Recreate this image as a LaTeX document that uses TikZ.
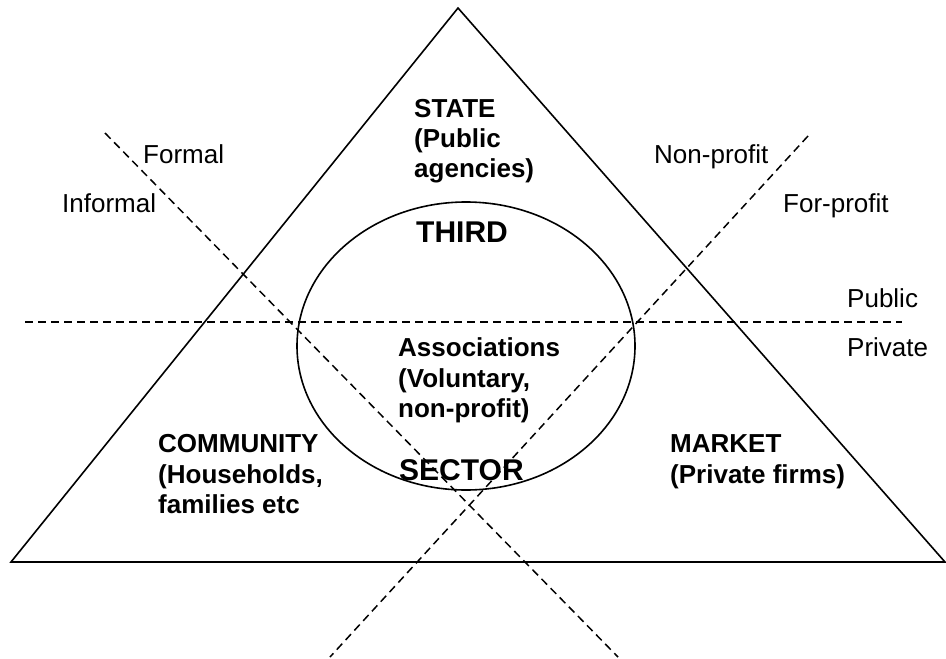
\documentclass[tikz,border=0pt]{standalone}
\usepackage{fontspec}
\setmainfont{Liberation Sans}
\usetikzlibrary{shapes.geometric}
\tikzset{
  solidline/.style={line width=1.6pt, black},
  dashline/.style={line width=1.5pt, black, dash pattern=on 8pt off 5pt},
  lbl/.style={anchor=base west, inner sep=0pt, font=\fontsize{26}{30}\selectfont},
  blbl/.style={anchor=base west, inner sep=0pt, font=\fontsize{26}{30}\selectfont\bfseries},
  biglbl/.style={anchor=base west, inner sep=0pt, font=\fontsize{30}{34}\selectfont\bfseries},
  third/.style={ellipse, draw, line width=1.6pt, minimum width=338pt, minimum height=288pt, inner sep=0pt}
}
\begin{document}
\begin{tikzpicture}[x=1pt,y=-1pt]
\useasboundingbox (0,0) rectangle (946,659);
% triangle
\coordinate (apex) at (458,8);
\coordinate (bl) at (11,562);
\coordinate (br) at (945,562);
\draw[solidline, line join=miter] (bl) -- (apex) -- (br) -- cycle;
% ellipse
\node[third] (ell) at (466,346) {};
% dashed lines
\coordinate (h1) at (25,322);
\coordinate (h2) at (902,322);
\coordinate (d1a) at (105,133);
\coordinate (d1b) at (618,657);
\coordinate (d2a) at (808,136);
\coordinate (d2b) at (330,657);
\draw[dashline] (h1) -- (h2);
\draw[dashline] (d1a) -- (d1b);
\draw[dashline] (d2a) -- (d2b);
% labels
\node[blbl] (st1) at (414,117) {STATE};
\node[blbl] (st2) at (414,147) {(Public};
\node[blbl] (st3) at (414,177) {agencies)};
\node[biglbl] (th) at (416,242) {THIRD};
\node[blbl] (as1) at (398,356) {Associations};
\node[blbl] (as2) at (398,387) {(Voluntary,};
\node[blbl] (as3) at (398,417) {non-profit)};
\node[biglbl] (se) at (399,480) {SECTOR};
\node[blbl] (co1) at (158,452) {COMMUNITY};
\node[blbl] (co2) at (158,483) {(Households,};
\node[blbl] (co3) at (158,513) {families etc};
\node[blbl] (ma1) at (670,452) {MARKET};
\node[blbl] (ma2) at (670,483) {(Private firms)};
\node[lbl] (fo) at (143,163) {Formal};
\node[lbl] (inf) at (62,212) {Informal};
\node[lbl] (np) at (654,163) {Non-profit};
\node[lbl] (fp) at (783,212) {For-profit};
\node[lbl] (pu) at (847,307) {Public};
\node[lbl] (pr) at (847,356) {Private};
\end{tikzpicture}
\end{document}
